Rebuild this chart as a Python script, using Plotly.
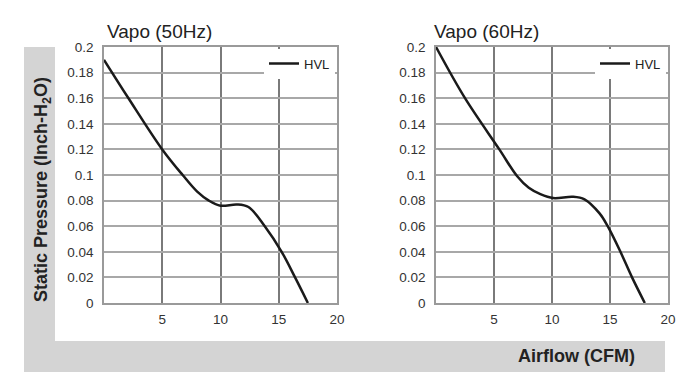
import plotly.graph_objects as go

# 50Hz curve (HVL)
x50 = [0, 2.1, 5.0, 6.75, 8.0, 9.0, 10.0, 11.4, 12.4, 13.8, 15.25, 16.4, 17.5]
y50 = [0.19, 0.16, 0.12, 0.10, 0.087, 0.080, 0.076, 0.077, 0.075, 0.06, 0.04, 0.02, 0.0]
# 60Hz curve (HVL)
x60 = [0, 2.5, 5.46, 7.0, 8.0, 9.0, 10.1, 11.8, 12.8, 14.1, 14.8, 15.9, 16.9, 18.0]
y60 = [0.2, 0.16, 0.12, 0.099, 0.09, 0.085, 0.082, 0.083, 0.081, 0.07, 0.06, 0.04, 0.02, 0.0]

series_name = "HVL"
titles = ["Vapo (50Hz)", "Vapo (60Hz)"]
ytick_vals = [0, 0.02, 0.04, 0.06, 0.08, 0.1, 0.12, 0.14, 0.16, 0.18, 0.2]
ytick_text = ["0", "0.02", "0.04", "0.06", "0.08", "0.1", "0.12", "0.14", "0.16", "0.18", "0.2"]
xtick_vals = [5, 10, 15, 20]
xtick_text = ["5", "10", "15", "20"]

W, H = 685, 392
def px(x): return x / W
def py(y): return (H - y) / H

FONT = "Arial, Liberation Sans, sans-serif"

fig = go.Figure()
fig.add_trace(go.Scatter(x=x50, y=y50, mode="lines", name=series_name,
                         line=dict(color="#1a1a1a", width=2.5, shape="spline", smoothing=1.0),
                         xaxis="x", yaxis="y", legend="legend"))
fig.add_trace(go.Scatter(x=x60, y=y60, mode="lines", name=series_name,
                         line=dict(color="#1a1a1a", width=2.5, shape="spline", smoothing=1.0),
                         xaxis="x2", yaxis="y2", legend="legend2"))

ydom = [py(303), py(47)]
axis_common = dict(showgrid=True, zeroline=False, showline=True, mirror=True,
                   linecolor="#9a9a9a", linewidth=1.5, ticks="", automargin=False,
                   tickfont=dict(family=FONT, size=13.5, color="#333"))
xcommon = dict(axis_common, range=[0, 20], tickvals=xtick_vals, ticktext=xtick_text,
               gridcolor="#7a7a7a", gridwidth=2, ticklabelstandoff=3)
ycommon = dict(axis_common, range=[0, 0.2], tickvals=ytick_vals, ticktext=ytick_text,
               gridcolor="#a8a8a8", gridwidth=1.5, ticklabelstandoff=6)

fig.update_layout(
    width=W, height=H,
    margin=dict(l=0, r=0, t=0, b=0),
    paper_bgcolor="white", plot_bgcolor="white",
    xaxis=dict(xcommon, domain=[px(104), px(337)], anchor="y"),
    yaxis=dict(ycommon, domain=ydom, anchor="x"),
    xaxis2=dict(xcommon, domain=[px(436), px(668)], anchor="y2"),
    yaxis2=dict(ycommon, domain=ydom, anchor="x2"),
    legend=dict(x=px(335), y=py(48.5), xanchor="right", yanchor="top",
                bgcolor="white", borderwidth=0,
                font=dict(family=FONT, size=13, color="#222"), itemwidth=30),
    legend2=dict(x=px(666), y=py(48.5), xanchor="right", yanchor="top",
                 bgcolor="white", borderwidth=0,
                 font=dict(family=FONT, size=13, color="#222"), itemwidth=30),
    showlegend=True,
)

# gray L-shaped band
fig.add_shape(type="rect", xref="paper", yref="paper", x0=px(24), x1=px(55), y0=py(372), y1=py(47),
              fillcolor="#d4d4d4", line_width=0, layer="below")
fig.add_shape(type="rect", xref="paper", yref="paper", x0=px(24), x1=px(665), y0=py(372), y1=py(341),
              fillcolor="#d4d4d4", line_width=0, layer="below")

fig.add_annotation(text=titles[0], xref="paper", yref="paper", x=px(105), y=py(31),
                   xanchor="left", yanchor="middle", showarrow=False,
                   font=dict(family=FONT, size=19, color="#222"))
fig.add_annotation(text=titles[1], xref="paper", yref="paper", x=px(432), y=py(31),
                   xanchor="left", yanchor="middle", showarrow=False,
                   font=dict(family=FONT, size=19, color="#222"))
fig.add_annotation(text="<b>Static Pressure (Inch-H<sub>2</sub>O)</b>", xref="paper", yref="paper",
                   x=px(42), y=py(190), xanchor="center", yanchor="middle", textangle=-90,
                   showarrow=False,
                   font=dict(family=FONT, size=18, color="#222"))
fig.add_annotation(text="<b>Airflow (CFM)</b>", xref="paper", yref="paper",
                   x=px(637), y=py(356), xanchor="right", yanchor="middle", showarrow=False,
                   font=dict(family=FONT, size=18, color="#222"))

fig.write_html("out.html")
